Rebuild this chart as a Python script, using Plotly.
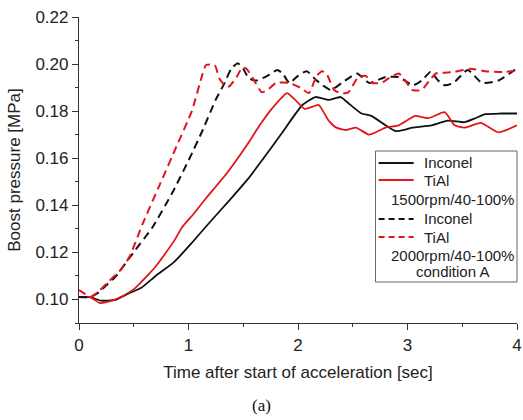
import plotly.graph_objects as go

# Inconel, 1500rpm/40-100% (solid black)
t_inconel_1500 = [0, 0.1, 0.2, 0.33, 0.45, 0.57, 0.7, 0.87, 1.03, 1.16, 1.4, 1.54, 1.67, 1.85,
                  2.04, 2.16, 2.28, 2.39, 2.47, 2.58, 2.67, 2.8, 2.89, 2.97, 3.04, 3.22, 3.37, 3.52,
                  3.62, 3.71, 3.85, 4.0]
p_inconel_1500 = [0.101, 0.101, 0.0995, 0.0998, 0.1025, 0.105, 0.110, 0.116, 0.124, 0.131,
                  0.1435, 0.151, 0.159, 0.1705, 0.1826, 0.186, 0.1848, 0.186, 0.183, 0.179, 0.178,
                  0.174, 0.1715, 0.172, 0.173, 0.174, 0.176, 0.1753, 0.177, 0.1787, 0.179, 0.179]

# TiAl, 1500rpm/40-100% (solid red)
t_tial_1500 = [0, 0.1, 0.19, 0.3, 0.4, 0.51, 0.7, 0.87, 0.94, 1.04, 1.16, 1.35, 1.54, 1.65, 1.76,
               1.9, 1.97, 2.06, 2.14, 2.19, 2.28, 2.35, 2.44, 2.53, 2.65, 2.8, 2.92, 3.07, 3.19,
               3.34, 3.43, 3.52, 3.67, 3.83, 4.0]
p_tial_1500 = [0.101, 0.101, 0.0985, 0.0995, 0.1015, 0.1047, 0.114, 0.125, 0.1306, 0.136, 0.143,
               0.1536, 0.166, 0.174, 0.181, 0.1877, 0.185, 0.181, 0.182, 0.1826, 0.176, 0.173,
               0.172, 0.173, 0.170, 0.173, 0.174, 0.178, 0.177, 0.1796, 0.174, 0.173, 0.175,
               0.171, 0.174]

# Inconel, 2000rpm/40-100% condition A (dashed black)
t_inconel_2000 = [0, 0.1, 0.18, 0.26, 0.33, 0.49, 0.67, 0.86, 1.01, 1.13, 1.25, 1.33, 1.39, 1.45,
                  1.5, 1.55, 1.62, 1.72, 1.81, 1.86, 1.92, 2.0, 2.08, 2.17, 2.3, 2.4, 2.54, 2.65,
                  2.8, 2.92, 3.05, 3.13, 3.21, 3.28, 3.34, 3.42, 3.55, 3.68, 3.83, 3.98, 4.0]
p_inconel_2000 = [0.101, 0.101, 0.103, 0.1065, 0.1095, 0.1195, 0.1306, 0.146, 0.160, 0.172, 0.185,
                  0.192, 0.198, 0.2004, 0.198, 0.194, 0.193, 0.195, 0.1975, 0.196, 0.192, 0.195,
                  0.197, 0.193, 0.189, 0.192, 0.196, 0.192, 0.1945, 0.1945, 0.191, 0.193, 0.1966,
                  0.193, 0.191, 0.192, 0.1975, 0.192, 0.193, 0.1975, 0.198]

# TiAl, 2000rpm/40-100% condition A (dashed red)
t_tial_2000 = [0, 0.05, 0.1, 0.16, 0.28, 0.37, 0.46, 0.58, 0.74, 0.89, 1.03, 1.12, 1.16, 1.24, 1.28,
               1.33, 1.37, 1.44, 1.49, 1.53, 1.6, 1.67, 1.72, 1.8, 1.92, 2.02, 2.1, 2.17, 2.22,
               2.26, 2.33, 2.4, 2.46, 2.55, 2.62, 2.67, 2.76, 2.83, 2.92, 2.98, 3.04, 3.13, 3.2,
               3.26, 3.42, 3.57, 3.71, 3.89, 4.0]
p_tial_2000 = [0.104, 0.1025, 0.101, 0.1026, 0.108, 0.112, 0.118, 0.132, 0.149, 0.165, 0.180,
               0.1945, 0.1996, 0.1996, 0.194, 0.191, 0.1905, 0.1945, 0.1985, 0.198, 0.193, 0.188,
               0.189, 0.192, 0.192, 0.190, 0.1877, 0.195, 0.197, 0.196, 0.189, 0.1875, 0.188,
               0.1945, 0.195, 0.192, 0.192, 0.194, 0.196, 0.193, 0.189, 0.189, 0.193, 0.196,
               0.1966, 0.198, 0.197, 0.1966, 0.1975]

BLACK = "#111111"
RED = "#e3141b"
FONT = "Arial, Liberation Sans, sans-serif"

fig = go.Figure()
fig.add_trace(go.Scatter(x=t_inconel_1500, y=p_inconel_1500, mode="lines",
                         line=dict(color=BLACK, width=1.8, shape="spline", smoothing=0.5)))
fig.add_trace(go.Scatter(x=t_tial_1500, y=p_tial_1500, mode="lines",
                         line=dict(color=RED, width=1.8, shape="spline", smoothing=0.5)))
fig.add_trace(go.Scatter(x=t_inconel_2000, y=p_inconel_2000, mode="lines",
                         line=dict(color=BLACK, width=2, dash="8px,5px", shape="spline", smoothing=0.5)))
fig.add_trace(go.Scatter(x=t_tial_2000, y=p_tial_2000, mode="lines",
                         line=dict(color=RED, width=2, dash="8px,5px", shape="spline", smoothing=0.5)))

fig.update_layout(
    width=523, height=420,
    margin=dict(l=79, r=6, t=17, b=97),
    paper_bgcolor="white", plot_bgcolor="white",
    font=dict(family=FONT, size=17, color="#222222"),
    showlegend=False,
)
fig.update_xaxes(range=[0, 4], dtick=1, showline=True, linecolor="#333333", linewidth=1.2,
                 ticks="outside", ticklen=6, tickcolor="#333333", showgrid=False, zeroline=False,
                 automargin=False, tickfont=dict(size=17),
                 minor=dict(dtick=0.5, ticks="outside", ticklen=3, tickcolor="#333333"),
                 title=dict(text="Time after start of acceleration [sec]", font=dict(size=17), standoff=12))
fig.update_yaxes(range=[0.09, 0.22], tick0=0.10, dtick=0.02, tickformat=".2f", showline=True,
                 linecolor="#333333", linewidth=1.2, ticks="outside", ticklen=6, tickcolor="#333333",
                 showgrid=False, zeroline=False, automargin=False, tickfont=dict(size=17),
                 minor=dict(dtick=0.01, ticks="outside", ticklen=3, tickcolor="#333333"),
                 title=dict(text="Boost pressure [MPa]", font=dict(size=17), standoff=10))

# legend drawn by hand so the condition labels sit under their groups
fig.add_shape(type="rect", xref="paper", yref="paper", x0=0.677, x1=1.0, y0=0.134, y1=0.562,
              line=dict(color="#666666", width=1), fillcolor="white", layer="above")
legend_rows = [
    (0.523, BLACK, "solid", "Inconel"),
    (0.467, RED, "solid", "TiAl"),
    (0.340, BLACK, "6px,4px", "Inconel"),
    (0.281, RED, "6px,4px", "TiAl"),
]
for yy, col, dash, label in legend_rows:
    fig.add_shape(type="line", xref="paper", yref="paper", x0=0.684, x1=0.764, y0=yy, y1=yy,
                  line=dict(color=col, width=2, dash=dash), layer="above")
    fig.add_annotation(xref="paper", yref="paper", x=0.782, y=yy, text=label, showarrow=False,
                       xanchor="left", yanchor="middle", font=dict(size=15))
for yy, label in [(0.405, "1500rpm/40-100%"), (0.222, "2000rpm/40-100%"), (0.168, "condition A")]:
    fig.add_annotation(xref="paper", yref="paper", x=0.852, y=yy, text=label, showarrow=False,
                       xanchor="center", yanchor="middle", font=dict(size=15))

fig.add_annotation(xref="paper", yref="paper", x=0.416, y=-0.268, text="(a)", showarrow=False,
                   xanchor="center", yanchor="middle",
                   font=dict(family="Times New Roman, Liberation Serif, serif", size=17, color="#111111"))

# the page body has an 8px default margin; drop it so the figure fills the window
fig.write_html("out.html", config={"displayModeBar": False},
               post_script="document.body.style.margin='0';")
